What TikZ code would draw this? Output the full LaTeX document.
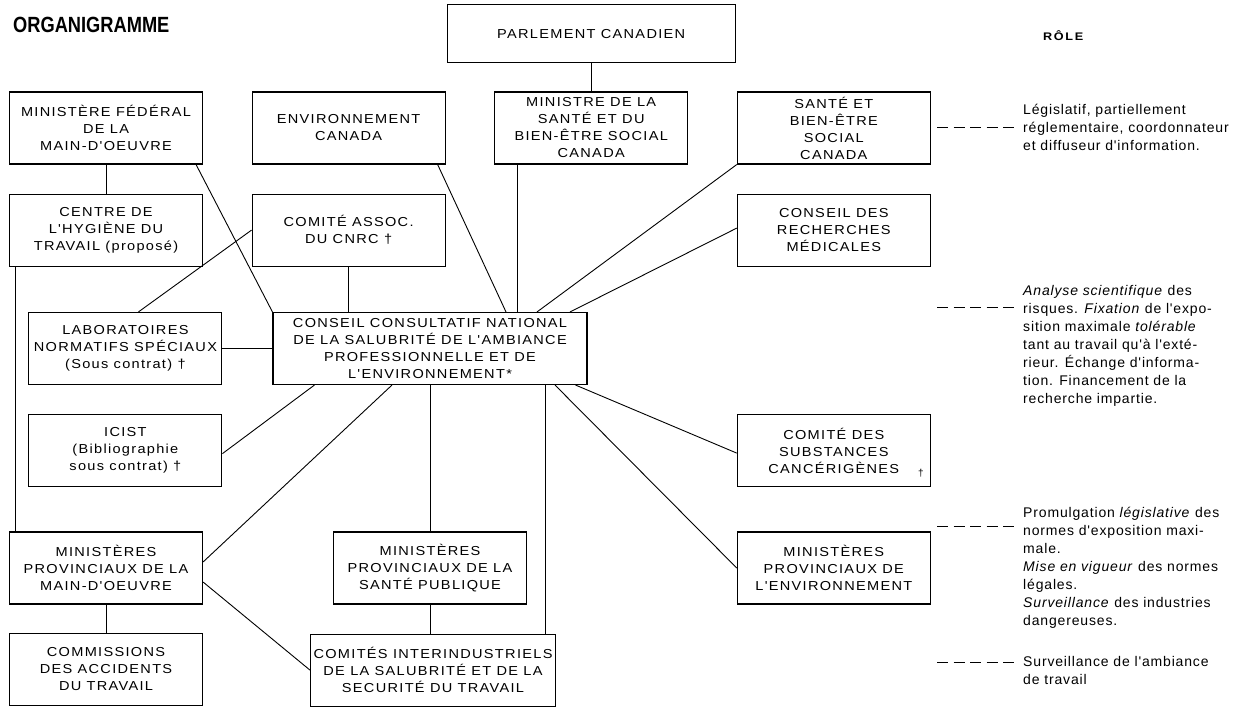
\documentclass[tikz,border=0pt]{standalone}
\usepackage{fontspec}
\setmainfont{Liberation Sans}
\newfontfamily\boitefont{Liberation Sans}[FakeStretch=1.12,LetterSpace=10]
\newfontfamily\rolefont{Liberation Sans}[LetterSpace=6]
\newfontfamily\titrefont{Liberation Sans}[FakeStretch=0.83]
\newfontfamily\entetefont{Liberation Sans}[FakeStretch=1.15,LetterSpace=15]
\usetikzlibrary{positioning}
\tikzset{
    %Define style for boxes
    boite/.style={
           rectangle,
           draw=black, line width=1.1pt,
           minimum width=193pt,
           minimum height=72pt,
           inner sep=3pt,
           align=center,
           font=\boitefont\fontsize{13}{17}\selectfont},
    %Define style for the role texts
    role/.style={
           anchor=north west,
           inner xsep=8pt, inner ysep=0pt,
           align=left,
           font=\rolefont\fontsize{14}{18}\selectfont},
    % Define line styles
    lien/.style={
           line width=0.9pt},
    tiret/.style={
           line width=0.8pt,
           dash pattern=on 11pt off 5.5pt}
}
\begin{document}
\begin{tikzpicture}[x=1pt,y=-1pt,node distance=48.5pt]
\useasboundingbox (0,0) rectangle (1236,707);
 %titles
\node[anchor=base west, inner sep=0pt, font=\titrefont\bfseries\fontsize{22}{26}\selectfont] (titre) at (13,32) {ORGANIGRAMME};
\node[anchor=base west, inner sep=0pt, font=\entetefont\bfseries\fontsize{11}{13}\selectfont] (entete) at (1043,40) {RÔLE};
 %nodes
\node[boite] (mfed) at (106,128) {MINISTÈRE FÉDÉRAL\\DE LA\\MAIN-D'OEUVRE};
\node[boite, right=of mfed] (env) {ENVIRONNEMENT\\CANADA};
\node[boite, right=of env] (minsante) {MINISTRE DE LA\\SANTÉ ET DU\\BIEN-ÊTRE SOCIAL\\CANADA};
\node[boite, right=of minsante] (sbes) {SANTÉ ET\\BIEN-ÊTRE\\SOCIAL\\CANADA};
\node[boite, above=28pt of minsante, minimum width=288pt, minimum height=58pt] (parl) {PARLEMENT CANADIEN};
\node[boite, below=29pt of mfed] (centre) {CENTRE DE\\L'HYGIÈNE DU\\TRAVAIL (proposé)};
\node[boite, below=29pt of env] (cnrc) {COMITÉ ASSOC.\\DU CNRC †};
\node[boite, below=29pt of sbes] (crm) {CONSEIL DES\\RECHERCHES\\MÉDICALES};
\node[boite, minimum width=314pt] (ccn) at (430,348.5) {CONSEIL CONSULTATIF NATIONAL\\DE LA SALUBRITÉ DE L'AMBIANCE\\PROFESSIONNELLE ET DE\\L'ENVIRONNEMENT*};
\node[boite, left=50pt of ccn] (labo) {LABORATOIRES\\NORMATIFS SPÉCIAUX\\(Sous contrat) †};
\node[boite, below=29pt of labo] (icist) {ICIST\\(Bibliographie\\sous contrat) †};
\node[boite] (subst) at (crm |- icist) {COMITÉ DES\\SUBSTANCES\\CANCÉRIGÈNES};
\node[inner sep=0pt, font=\rolefont\fontsize{10}{12}\selectfont] (croix) at (921,473) {†};
\node[boite] (pmo) at (106,568) {MINISTÈRES\\PROVINCIAUX DE LA\\MAIN-D'OEUVRE};
\node[boite] (psante) at (ccn |- pmo) {MINISTÈRES\\PROVINCIAUX DE LA\\SANTÉ PUBLIQUE};
\node[boite] (penv) at (sbes |- pmo) {MINISTÈRES\\PROVINCIAUX DE\\L'ENVIRONNEMENT};
\node[boite, below=28pt of pmo] (comm) {COMMISSIONS\\DES ACCIDENTS\\DU TRAVAIL};
\node[boite, below=29pt of psante, xshift=3pt] (cii) {COMITÉS INTERINDUSTRIELS\\DE LA SALUBRITÉ ET DE LA\\SECURITÉ DU TRAVAIL};
 %helper points
\coordinate (m1) at ([xshift=23pt]minsante.south west);
\coordinate (c1) at ([xshift=6pt]centre.south west);
\coordinate (c2) at ([xshift=115pt]ccn.south);
 %links
\draw[lien] (parl.south) -- (minsante.north);
\draw[lien] (mfed.south) -- (centre.north);
\draw[lien] ([xshift=-7pt]mfed.south east) -- (ccn.north west);
\draw[lien] ([xshift=-8pt]env.south east) -- ([xshift=76pt]ccn.north);
\draw[lien] (m1) -- (m1 |- ccn.north);
\draw[lien] (sbes.south west) -- ([xshift=107pt]ccn.north);
\draw[lien] ([yshift=2pt]crm.west) -- ([xshift=140pt]ccn.north);
\draw[lien] (cnrc.south) -- (cnrc.south |- ccn.north);
\draw[lien] ([xshift=13pt]labo.north) -- (cnrc.west);
\draw[lien] (labo.east) -- (ccn.west);
\draw[lien] (c1) -- (c1 |- pmo.north);
\draw[lien] ([yshift=-3pt]icist.east) -- ([xshift=42pt]ccn.south west);
\draw[lien] ([yshift=6pt]pmo.east) -- ([xshift=-38pt]ccn.south);
\draw[lien] (ccn.south) -- (psante.north);
\draw[lien] (c2) -- (c2 |- cii.north);
\draw[lien] ([xshift=125pt]ccn.south) -- (penv.west);
\draw[lien] ([xshift=-12pt]ccn.south east) -- ([yshift=-2.5pt]subst.west);
\draw[lien] (psante.south) -- (psante.south |- cii.north);
\draw[lien] (pmo.south) -- (comm.north);
\draw[lien] ([yshift=-14pt]pmo.east) -- (cii.west);
 %roles
\node[role] (r1) at (1015,103.6) {Législatif, partiellement\\réglementaire, coordonnateur\\et diffuseur d'information.};
\node[role] (r2) at (1015,284.8) {\textit{Analyse scientifique} des\\risques. \textit{Fixation} de l'expo-\\sition maximale \textit{tolérable}\\tant au travail qu'à l'exté-\\rieur. Échange d'informa-\\tion. Financement de la\\recherche impartie.};
\node[role] (r3) at (1015,506.7) {Promulgation \textit{législative} des\\normes d'exposition maxi-\\male.\\\textit{Mise en vigueur} des normes\\légales.\\\textit{Surveillance} des industries\\dangereuses.};
\node[role] (r4) at (1015,655.8) {Surveillance de l'ambiance\\de travail};
\coordinate (d1) at (937,127);
\coordinate (d2) at (937,307);
\coordinate (d3) at (937,526);
\coordinate (d4) at (937,662);
\draw[tiret] (d1) -- (d1 -| r1.west);
\draw[tiret] (d2) -- (d2 -| r2.west);
\draw[tiret] (d3) -- (d3 -| r3.west);
\draw[tiret] (d4) -- (d4 -| r4.west);
\end{tikzpicture}
\end{document}
